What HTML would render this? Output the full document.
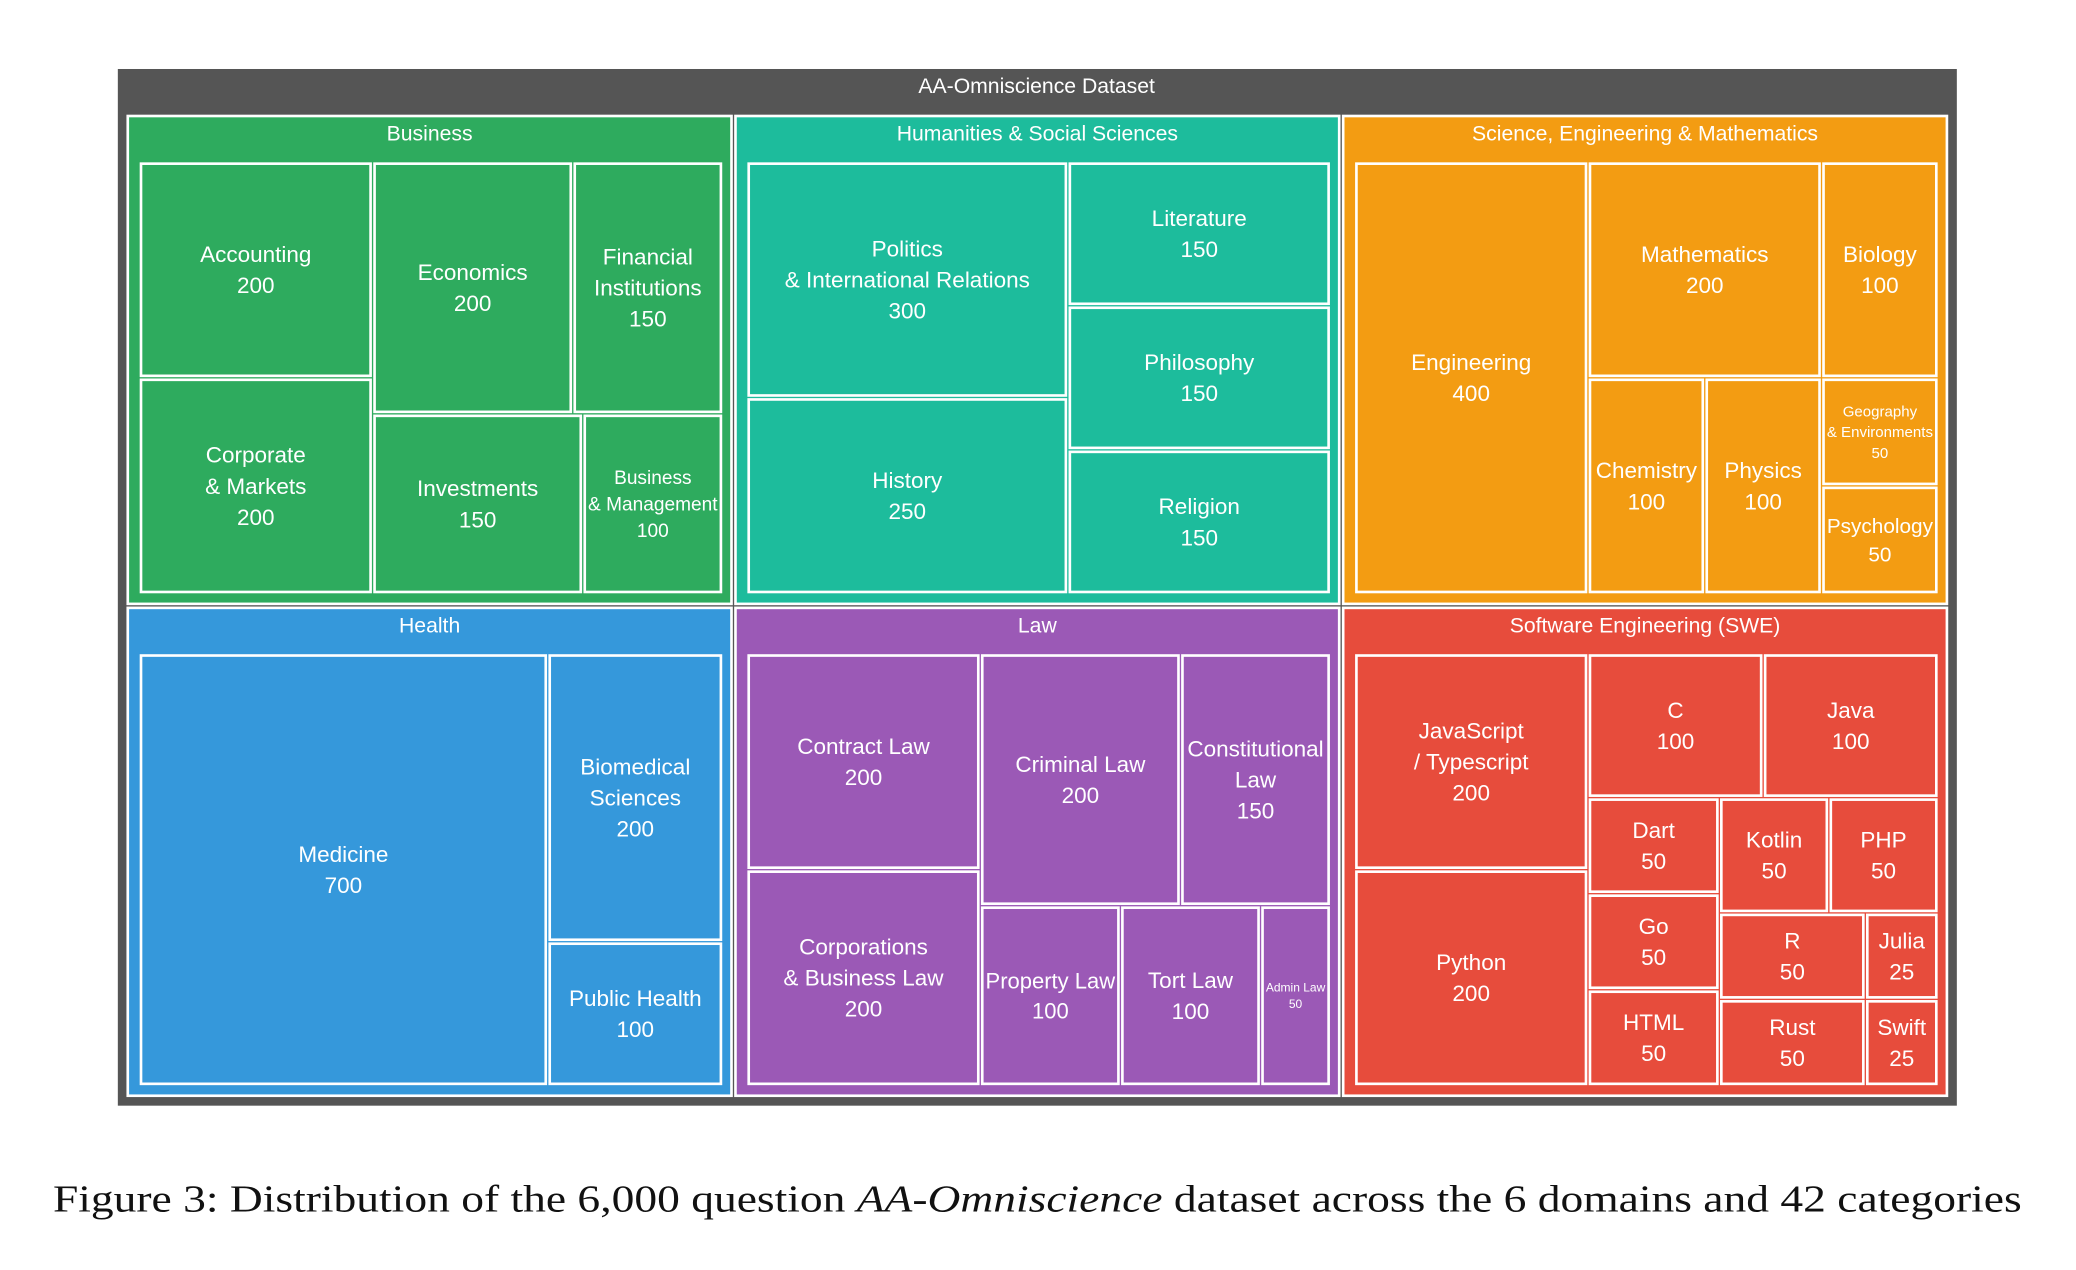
<!DOCTYPE html>
<html><head><meta charset="utf-8">
<style>
html,body{margin:0;padding:0;background:#fff;}
svg{display:block;}
.lbl{font-family:"Liberation Sans",Arial,sans-serif;fill:#fff;text-anchor:middle;}
</style></head>
<body>
<svg id="chart" width="2076" height="1270" viewBox="0 0 1568 959" xmlns="http://www.w3.org/2000/svg">
  <rect x="89" y="52" width="1389" height="783" fill="#555555"/>
  <text class="lbl" x="783" y="70" font-size="16">AA-Omniscience Dataset</text>
  <g id="marks"></g>
  <text x="40" y="915" font-family="'Liberation Serif',serif" font-size="29" fill="#111" textLength="1487" lengthAdjust="spacingAndGlyphs">Figure 3: Distribution of the 6,000 question <tspan font-style="italic">AA-Omniscience</tspan> dataset across the 6 domains and 42 categories</text>
</svg>
<script>
// ---- data ----
const domains = ["Business","Humanities & Social Sciences","Science, Engineering & Mathematics","Health","Law","Software Engineering (SWE)"];
const domainColors = ["#2eab5e","#1dbc9c","#f39c12","#3598db","#9b59b6","#e74c3c"];
const businessCats = ["Accounting","Corporate\n& Markets","Economics","Financial\nInstitutions","Investments","Business\n& Management"];
const businessVals = [200,200,200,150,150,100];
const humanitiesCats = ["Politics\n& International Relations","History","Literature","Philosophy","Religion"];
const humanitiesVals = [300,250,150,150,150];
const scienceCats = ["Engineering","Mathematics","Biology","Chemistry","Physics","Geography\n& Environments","Psychology"];
const scienceVals = [400,200,100,100,100,50,50];
const healthCats = ["Medicine","Biomedical\nSciences","Public Health"];
const healthVals = [700,200,100];
const lawCats = ["Contract Law","Corporations\n& Business Law","Criminal Law","Constitutional\nLaw","Property Law","Tort Law","Admin Law"];
const lawVals = [200,200,200,150,100,100,50];
const sweCats = ["JavaScript\n/ Typescript","Python","C","Java","Dart","Go","HTML","Kotlin","PHP","R","Julia","Rust","Swift"];
const sweVals = [200,200,100,100,50,50,50,50,50,50,25,50,25];

// grouping structure (h = side by side, v = stacked); numbers are category indices
const structures = [
  {d:'h',k:[{d:'v',k:[0,1]},{d:'v',k:[{d:'h',k:[2,3]},{d:'h',k:[4,5]}]}]},
  {d:'h',k:[{d:'v',k:[0,1]},{d:'v',k:[2,3,4]}]},
  {d:'h',k:[0,{d:'v',k:[{d:'h',k:[1,2]},{d:'h',k:[3,4,{d:'v',k:[5,6]}]}]}]},
  {d:'h',k:[0,{d:'v',k:[1,2]}]},
  {d:'h',k:[{d:'v',k:[0,1]},{d:'v',k:[{d:'h',k:[2,3]},{d:'h',k:[4,5,6]}]}]},
  {d:'h',k:[{d:'v',k:[0,1]},{d:'v',k:[{d:'h',k:[2,3]},{d:'h',k:[{d:'v',k:[4,5,6]},{d:'v',k:[{d:'h',k:[7,8]},{d:'h',k:[9,10]},{d:'h',k:[11,12]}]}]}]}]}
];
const allCats = [businessCats,humanitiesCats,scienceCats,healthCats,lawCats,sweCats];
const allVals = [businessVals,humanitiesVals,scienceVals,healthVals,lawVals,sweVals];

const NS = "http://www.w3.org/2000/svg";
const g = document.getElementById('marks');
const ctx = document.createElement('canvas').getContext('2d');

function sum(node, vals){ return typeof node==='number' ? vals[node] : node.k.reduce((s,c)=>s+sum(c,vals),0); }
function layout(node, vals, x,y,w,h, out){
  if(typeof node==='number'){ out.push({i:node,x,y,w,h}); return; }
  const tot = sum(node,vals); let off=0;
  node.k.forEach(c=>{
    const f = sum(c,vals)/tot;
    if(node.d==='h'){ layout(c,vals,x+off,y,w*f,h,out); off+=w*f; }
    else { layout(c,vals,x,y+off,w,h*f,out); off+=h*f; }
  });
}
function slug(s){ return s.toLowerCase().replace(/[^a-z0-9]+/g,'-').replace(/^-|-$/g,''); }

// domain grid
const domTotals = allVals.map(v=>v.reduce((a,b)=>a+b,0));
const X0=95, Y0=86, W=1377, H=743;
const rowTot = [domTotals[0]+domTotals[1]+domTotals[2], domTotals[3]+domTotals[4]+domTotals[5]];
const grand = rowTot[0]+rowTot[1];
let yOff = Y0;
for(let r=0;r<2;r++){
  const rh = H*rowTot[r]/grand; let xOff = X0;
  for(let c=0;c<3;c++){
    const di = r*3+c;
    const dw = W*domTotals[di]/rowTot[r];
    const dr = document.createElementNS(NS,'rect');
    dr.setAttribute('x',xOff+1.5); dr.setAttribute('y',yOff+1.5);
    dr.setAttribute('width',dw-3); dr.setAttribute('height',rh-3);
    dr.setAttribute('fill',domainColors[di]); dr.setAttribute('stroke','#fff'); dr.setAttribute('stroke-width','2');
    
    
    g.appendChild(dr);
    const dt = document.createElementNS(NS,'text');
    dt.setAttribute('class','lbl'); dt.setAttribute('x',xOff+dw/2); dt.setAttribute('y',yOff+20);
    dt.setAttribute('font-size','16'); dt.textContent = domains[di];
    
    
    g.appendChild(dt);
    const out=[];
    layout(structures[di], allVals[di], xOff+10, yOff+36, dw-18, rh-45, out);
    out.forEach(o=>{
      const rc = document.createElementNS(NS,'rect');
      rc.setAttribute('x',o.x+1.5); rc.setAttribute('y',o.y+1.5);
      rc.setAttribute('width',Math.max(0,o.w-3)); rc.setAttribute('height',Math.max(0,o.h-3));
      rc.setAttribute('fill',domainColors[di]); rc.setAttribute('stroke','#fff'); rc.setAttribute('stroke-width','2');
      
      
      g.appendChild(rc);
      const lines = allCats[di][o.i].split('\n').concat([String(allVals[di][o.i])]);
      ctx.font = '17px "Liberation Sans", Arial, sans-serif';
      const mw = Math.max(...lines.map(l=>ctx.measureText(l).width));
      const fs = Math.min(17, 17*(o.w-8)/mw);
      const lh = fs*1.38;
      const t = document.createElementNS(NS,'text');
      t.setAttribute('class','lbl'); t.setAttribute('font-size',fs.toFixed(2));
      
      
      const cy = o.y + o.h/2 - (lines.length-1)*lh/2 + fs*0.35;
      lines.forEach((l,k)=>{
        const ts = document.createElementNS(NS,'tspan');
        ts.setAttribute('x',o.x+o.w/2); ts.setAttribute('y',cy+k*lh);
        ts.textContent = l; t.appendChild(ts);
      });
      g.appendChild(t);
    });
    xOff += dw;
  }
  yOff += rh;
}
</script>
</body></html>
